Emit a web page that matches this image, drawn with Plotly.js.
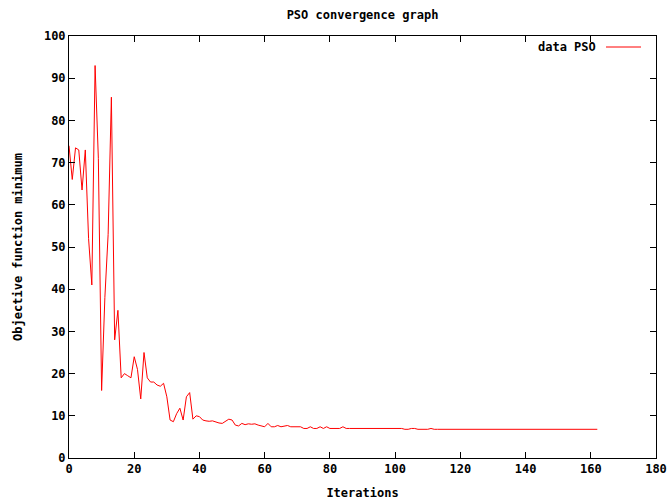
<!DOCTYPE html>
<html>
<head>
<meta charset="utf-8">
<script src="https://cdn.plot.ly/plotly-3.0.1.min.js"></script>
<style>html,body{margin:0;padding:0;background:#fff;}#chart{width:671px;height:504px;}</style>
</head>
<body>
<div id="chart"></div>
<script>
var seriesName = "data PSO";
var iterations = [
  0,1,2,3,4,5,6,7,8,9,
  10,11,12,13,14,15,16,17,18,19,
  20,21,22,23,24,25,26,27,28,29,
  30,31,32,33,34,35,36,37,38,39,
  40,41,42,43,44,45,46,47,48,49,
  50,51,52,53,54,55,56,57,58,59,
  60,61,62,63,64,65,66,67,68,69,
  70,71,72,73,74,75,76,77,78,79,
  80,81,82,83,84,85,86,87,88,89,
  90,91,92,93,94,95,96,97,98,99,
  100,101,102,103,104,105,106,107,108,109,
  110,111,112,113,114,115,116,117,118,119,
  120,121,122,123,124,125,126,127,128,129,
  130,131,132,133,134,135,136,137,138,139,
  140,141,142,143,144,145,146,147,148,149,
  150,151,152,153,154,155,156,157,158,159,
  160,161,162
];
var objectiveMin = [
  74, 66, 73.5, 73, 63.5, 73, 52, 41, 93, 71,
  16, 38, 53, 85.5, 28, 35, 19, 20, 19.5, 19,
  24, 21, 14, 25, 19, 18, 18, 17.3, 17, 17.7,
  14.5, 9, 8.6, 10.5, 11.8, 9, 14.5, 15.5, 9.2, 10,
  9.8, 9, 8.8, 8.7, 8.8, 8.5, 8.3, 8.2, 8.6, 9.2,
  9, 7.8, 7.6, 8.2, 7.9, 8.1, 8, 8.1, 7.8, 7.6,
  7.4, 8.2, 7.4, 7.4, 7.7, 7.4, 7.5, 7.7, 7.4, 7.4,
  7.4, 7.4, 7, 7, 7.4, 7, 7, 7.4, 7, 7.4,
  7, 7, 7, 7, 7.4, 7, 7, 7, 7, 7,
  7, 7, 7, 7, 7, 7, 7, 7, 7, 7,
  7, 7, 7, 6.8, 6.8, 7, 7, 6.8, 6.8, 6.8,
  6.8, 7, 6.8, 6.8, 6.8, 6.8, 6.8, 6.8, 6.8, 6.8,
  6.8, 6.8, 6.8, 6.8, 6.8, 6.8, 6.8, 6.8, 6.8, 6.8,
  6.8, 6.8, 6.8, 6.8, 6.8, 6.8, 6.8, 6.8, 6.8, 6.8,
  6.8, 6.8, 6.8, 6.8, 6.8, 6.8, 6.8, 6.8, 6.8, 6.8,
  6.8, 6.8, 6.8, 6.8, 6.8, 6.8, 6.8, 6.8, 6.8, 6.8,
  6.8, 6.8, 6.8
];
var xTicks = [0, 20, 40, 60, 80, 100, 120, 140, 160, 180];
var yTicks = [0, 10, 20, 30, 40, 50, 60, 70, 80, 90, 100];

var FONT = "DejaVu Sans Mono, monospace";
var fnt = {family: FONT, size: 12, color: "#000", weight: "bold"};

var trace = {
  x: iterations, y: objectiveMin, type: "scatter", mode: "lines",
  name: seriesName, line: {color: "#ff0000", width: 1}, showlegend: false
};

var layout = {
  width: 671, height: 504,
  margin: {l: 69, r: 15, t: 36, b: 46, pad: 0},
  paper_bgcolor: "#fff", plot_bgcolor: "#fff",
  font: fnt,
  title: {text: "PSO convergence graph", font: fnt, xref: "paper", x: 0.5, xanchor: "center",
          yref: "container", y: 1 - 15/504, yanchor: "middle"},
  xaxis: {
    range: [0, 180], tickvals: xTicks, ticktext: xTicks.map(String),
    ticks: "inside", ticklen: 6, tickcolor: "#000", tickwidth: 1,
    showline: true, linecolor: "#000", linewidth: 1, mirror: "ticks",
    showgrid: false, zeroline: false, tickfont: fnt, automargin: false,
    title: {text: "Iterations", font: fnt, standoff: 13}
  },
  yaxis: {
    range: [0, 100], tickvals: yTicks, ticktext: yTicks.map(String),
    ticks: "inside", ticklen: 6, tickcolor: "#000", tickwidth: 1,
    showline: true, linecolor: "#000", linewidth: 1, mirror: "ticks",
    showgrid: false, zeroline: false, tickfont: fnt, automargin: false,
    title: {text: "Objective function minimum", font: fnt, standoff: 18}
  },
  annotations: [{
    text: seriesName, xref: "paper", yref: "paper",
    x: (598 - 69) / 587, y: (458 - 47) / 422, xanchor: "right", yanchor: "middle",
    showarrow: false, font: fnt
  }],
  shapes: [{
    type: "line", xref: "paper", yref: "paper",
    x0: (606 - 69) / 587, x1: (641 - 69) / 587,
    y0: (458 - 47) / 422, y1: (458 - 47) / 422,
    line: {color: "#ff0000", width: 1}
  }]
};

Plotly.newPlot("chart", [trace], layout, {displayModeBar: false, staticPlot: true});
</script>
</body>
</html>
